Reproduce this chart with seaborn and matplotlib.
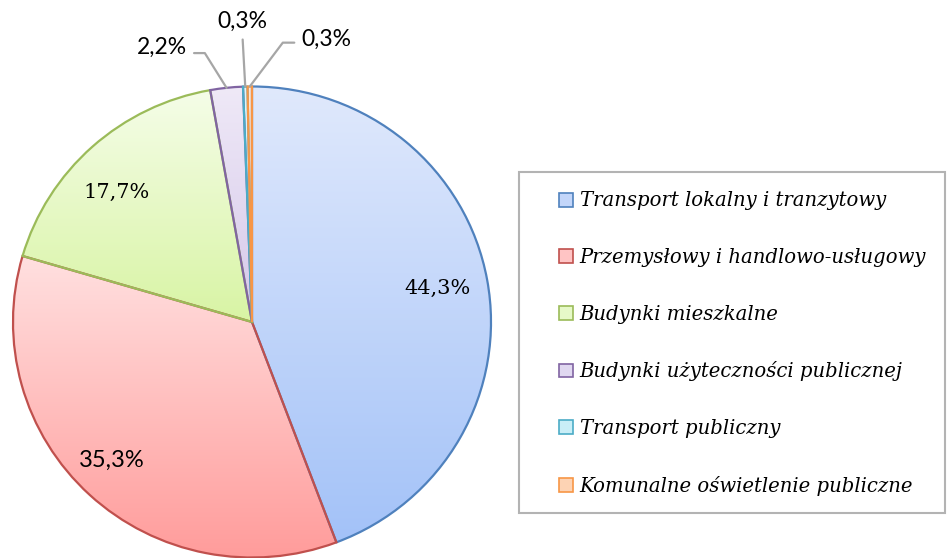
import numpy as np
import matplotlib
matplotlib.use("Agg")
import matplotlib.pyplot as plt
import seaborn as sns
from matplotlib.colors import LinearSegmentedColormap
from matplotlib.patches import Patch, Rectangle
from matplotlib.font_manager import FontProperties

sns.set_theme(style="white")
plt.rcParams['font.family'] = ['DejaVu Serif', 'DejaVu Sans']

# ---- data ----
categories = ["Transport lokalny i tranzytowy",
              "Przemysłowy i handlowo-usługowy",
              "Budynki mieszkalne",
              "Budynki użyteczności publicznej",
              "Transport publiczny",
              "Komunalne oświetlenie publiczne"]
values = [44.3, 35.3, 17.7, 2.2, 0.3, 0.3]
value_labels = ["44,3%", "35,3%", "17,7%", "2,2%", "0,3%", "0,3%"]

edge_colors = ["#4f81bd", "#c0504d", "#9bbb59", "#8064a2", "#4bacc6", "#f79646"]
top_colors = ["#e0e9fc", "#ffe0e0", "#f5fde8", "#efe9f7", "#e2f6fb", "#fee8d8"]
bottom_colors = ["#a3c2f8", "#ff9c9b", "#d8f4a4", "#d5c8ea", "#a8e4f3", "#fcbf91"]
mid_colors = ["#c3d6fa", "#ffc4c4", "#e6f9c8", "#e0d8f0", "#c9eef7", "#fdd3b4"]

# label style: inside (font, distance, angle shift) / outside (pixel offset)
label_fonts = ["DejaVu Serif", "Lato", "DejaVu Serif", "Lato", "Lato", "Lato"]
label_sizes = [15, 17, 15, 16.5, 16.5, 16.5]
inside = [(0.79, 0.0), (0.83, -2.0), (0.79, 4.0), None, None, None]
outside = [None, None, None, (-65, 40), (-3, 65), (77, 47)]
outside_relpos = [None, None, None, (1.0, 0.25), (0.5, 0.0), (0.0, 0.35)]

W, H = 947, 558
fig = plt.figure(figsize=(W / 100, H / 100), dpi=100)
ax = fig.add_axes([0, 0, 1, 1])

cx, cy = 252, 322      # pie centre in pixels (from top-left)
rx, ry = 239, 235.5    # radii in pixels

wedges, _ = ax.pie(values, startangle=90, counterclock=False,
                   colors=["none"] * len(values),
                   wedgeprops=dict(linewidth=1.6))
ax.set_aspect('auto')

for w, ec, tc, bc in zip(wedges, edge_colors, top_colors, bottom_colors):
    w.set_edgecolor(ec)
    w.set_facecolor("none")
    w.set_zorder(2)
    ext = w.get_path().get_extents()
    cmap = LinearSegmentedColormap.from_list("g", [bc, tc])
    grad = np.linspace(0, 1, 256).reshape(-1, 1)
    im = ax.imshow(grad, extent=[ext.x0, ext.x1, ext.y0, ext.y1], origin='lower',
                   cmap=cmap, aspect='auto', interpolation='bicubic', zorder=1)
    im.set_clip_path(w)

ax.set_xlim(-cx / rx, (W - cx) / rx)
ax.set_ylim(-(H - cy) / ry, cy / ry)
ax.axis('off')

for i, w in enumerate(wedges):
    mid = np.deg2rad((w.theta1 + w.theta2) / 2)
    if inside[i] is not None:
        d, shift = inside[i]
        a = mid + np.deg2rad(shift)
        ax.text(d * np.cos(a), d * np.sin(a), value_labels[i],
                ha='center', va='center', fontsize=label_sizes[i],
                family=label_fonts[i], color='black', zorder=5)
    else:
        xy = (np.cos(mid), np.sin(mid))
        dx, dy = outside[i]
        if dx < -10:
            cs = "angle,angleA=0,angleB=-58,rad=0"
        elif dx > 10:
            cs = "angle,angleA=0,angleB=53,rad=0"
        else:
            cs = "arc3,rad=0"
        ax.annotate(value_labels[i], xy=xy, xytext=(dx, dy),
                    textcoords='offset pixels', ha='center', va='center',
                    fontsize=label_sizes[i], family=label_fonts[i], color='black',
                    arrowprops=dict(arrowstyle='-', color='#a6a6a6', lw=1.6,
                                    connectionstyle=cs, shrinkA=3, shrinkB=0,
                                    relpos=outside_relpos[i]),
                    annotation_clip=False, zorder=5)

handles = [Patch(facecolor=mc, edgecolor=ec, linewidth=1.2)
           for mc, ec in zip(mid_colors, edge_colors)]
leg = ax.legend(handles, categories, loc='center left',
                bbox_to_anchor=(559 / W, 1 - 343.5 / H), bbox_transform=fig.transFigure,
                frameon=False, borderpad=0, borderaxespad=0,
                prop=FontProperties(family='DejaVu Serif', style='italic', size=14.1),
                labelcolor='black',
                handlelength=0.7, handleheight=0.7, handletextpad=0.35,
                labelspacing=1.92)

fig.patches.append(Rectangle((519 / W, 1 - 513 / H), (945 - 519) / W, (513 - 172) / H,
                             transform=fig.transFigure, facecolor='none',
                             edgecolor='#b3b3b3', linewidth=1.5))

fig.savefig("out.png", dpi=100, facecolor='white')
